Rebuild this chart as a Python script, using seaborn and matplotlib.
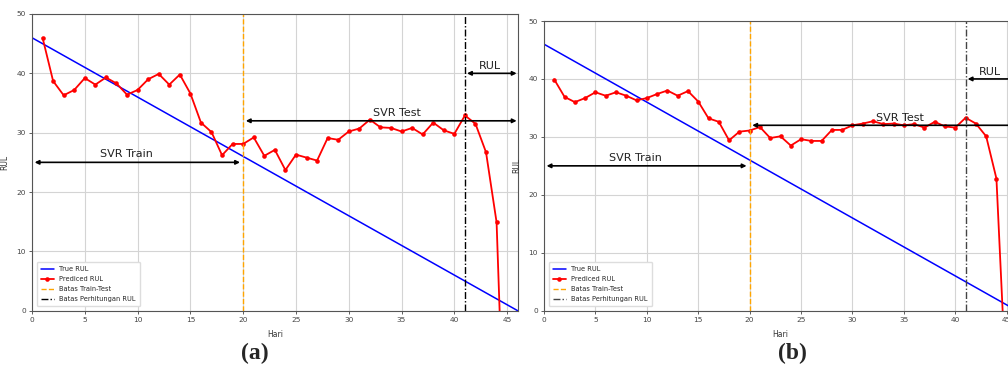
import numpy as np
import pandas as pd
import matplotlib
matplotlib.use("Agg")
import matplotlib.pyplot as plt
import seaborn as sns

# data
days = list(range(1, 46))
pred_a = [46.0, 38.7, 36.3, 37.2, 39.2, 38.1, 39.3, 38.3, 36.4, 37.2,
          39.0, 39.9, 38.1, 39.8, 36.6, 31.7, 30.1, 26.2, 28.1, 28.1,
          29.2, 26.1, 27.1, 23.7, 26.3, 25.8, 25.3, 29.1, 28.8, 30.2,
          30.7, 32.2, 30.9, 30.8, 30.2, 30.8, 29.7, 31.7, 30.4, 29.8,
          32.9, 31.5, 26.7, 14.9, -37.0]
pred_b = [39.9, 36.9, 36.0, 36.7, 37.7, 37.1, 37.7, 37.1, 36.3, 36.7,
          37.4, 38.0, 37.1, 37.9, 36.1, 33.2, 32.6, 29.4, 30.9, 31.1,
          31.7, 29.8, 30.1, 28.5, 29.6, 29.3, 29.3, 31.2, 31.2, 32.0,
          32.3, 32.7, 32.2, 32.3, 32.0, 32.2, 31.6, 32.6, 31.8, 31.6,
          33.3, 32.3, 30.1, 22.8, -15.0]
true_days = [0, 46]
true_rul = [46, 0]
split_day = 20
rul_day = 41
last_day = 46
xticks = [0, 5, 10, 15, 20, 25, 30, 35, 40, 45]
yticks = [0, 10, 20, 30, 40, 50]

sns.set_style("whitegrid", {
    "axes.edgecolor": "#555555",
    "grid.color": "#d4d4d4",
    "xtick.bottom": True,
    "ytick.left": True,
})
plt.rcParams["font.family"] = ["DejaVu Sans"]
plt.rcParams["axes.linewidth"] = 0.8
plt.rcParams["grid.linewidth"] = 0.8
plt.rcParams["xtick.major.size"] = 2.5
plt.rcParams["ytick.major.size"] = 2.5
plt.rcParams["xtick.major.width"] = 0.6
plt.rcParams["ytick.major.width"] = 0.6
plt.rcParams["xtick.color"] = "#444444"
plt.rcParams["ytick.color"] = "#444444"

W, H = 1008, 365
fig = plt.figure(figsize=(W / 100, H / 100), dpi=100)
ax_a = fig.add_axes([32 / W, (H - 310.7) / H, (517.7 - 32) / W, (310.7 - 14) / H])
ax_b = fig.add_axes([544 / W, (H - 310.7) / H, (1017 - 544) / W, (310.7 - 21) / H])


def draw_panel(ax, pred, vcolor):
    df = pd.DataFrame({"Hari": days, "RUL": pred})
    sns.lineplot(x=true_days, y=true_rul, color="blue", lw=1.1, label="True RUL", ax=ax)
    sns.lineplot(data=df, x="Hari", y="RUL", color="red", lw=1.3, marker="o",
                 markersize=3.3, markeredgewidth=0, label="Prediced RUL", ax=ax)
    ax.axvline(split_day, color="orange", ls="--", lw=1, label="Batas Train-Test")
    ax.axvline(rul_day, color=vcolor, ls=(0, (5, 1.5, 1, 1.5)), lw=1,
               label="Batas Perhitungan RUL")

    arrow = dict(arrowstyle="<|-|>", color="black", lw=1.2, mutation_scale=6,
                 shrinkA=0, shrinkB=0)
    ax.annotate("", xy=(0.25, 25), xytext=(split_day - 0.3, 25), arrowprops=arrow)
    ax.text(8.9, 25.5, "SVR Train", fontsize=8, ha="center", va="bottom", color="#222222")
    ax.annotate("", xy=(split_day + 0.25, 32), xytext=(last_day - 0.1, 32), arrowprops=arrow)
    ax.text(34.6, 32.4, "SVR Test", fontsize=8, ha="center", va="bottom", color="#222222")
    ax.annotate("", xy=(rul_day + 0.2, 40), xytext=(last_day - 0.1, 40), arrowprops=arrow)
    ax.text(43.4, 40.4, "RUL", fontsize=8, ha="center", va="bottom", color="#222222")

    ax.set_xlim(0, last_day)
    ax.set_ylim(0, 50)
    ax.set_xticks(xticks)
    ax.set_yticks(yticks)
    ax.tick_params(labelsize=5.3, pad=2)
    ax.set_xlabel("Hari", fontsize=5.5, labelpad=5, color="#333333")
    ax.set_ylabel("RUL", fontsize=5.5, labelpad=5, color="#333333")
    ax.legend(loc="lower left", fontsize=4.8, frameon=True, framealpha=1,
              edgecolor="#dddddd", fancybox=True, borderpad=0.6, labelspacing=0.6,
              handlelength=2.0, bbox_to_anchor=(0.003, 0.005))
    for s in ax.spines.values():
        s.set_visible(True)
        s.set_color("#555555")


draw_panel(ax_a, pred_a, "black")
draw_panel(ax_b, pred_b, "#444444")

fig.text(255 / W, 1 - 353 / H, "(a)", fontsize=17, fontweight="bold",
         family="Liberation Serif", ha="center", va="center")
fig.text(792 / W, 1 - 353 / H, "(b)", fontsize=17, fontweight="bold",
         family="Liberation Serif", ha="center", va="center")

fig.savefig("out.png", dpi=100)
